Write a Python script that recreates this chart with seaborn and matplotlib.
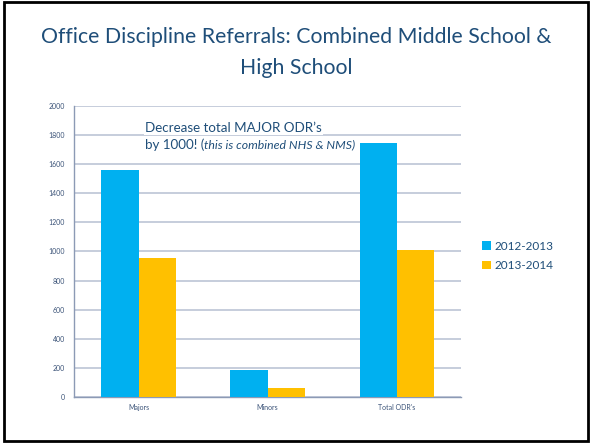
import pandas as pd
import matplotlib.pyplot as plt
import seaborn as sns
from matplotlib.patches import Rectangle
from matplotlib.ticker import FixedLocator

categories = ['Majors', 'Minors', "Total ODR's"]
years = ['2012-2013', '2013-2014']
vals_2012 = [1560, 185, 1745]
vals_2013 = [955, 63, 1010]

df = pd.DataFrame({
    'category': categories * 2,
    'year': [years[0]] * 3 + [years[1]] * 3,
    'value': vals_2012 + vals_2013,
})

sns.set_style('white')
plt.rcParams['font.family'] = ['Lato', 'DejaVu Sans']

navy = '#1F4E79'
axis_col = '#8C9AB5'

fig = plt.figure(figsize=(5.92, 4.45), dpi=100)
ax = fig.add_axes([0.125, 0.108, 0.654, 0.654])

sns.barplot(data=df, x='category', y='value', hue='year',
            palette=['#00B0F0', '#FFC000'], width=0.575, ax=ax,
            saturation=1, edgecolor='none', zorder=3)

ax.set_ylim(0, 2000)
ax.set_xlim(-0.5, 2.5)
ax.set_yticks(range(0, 2001, 200))
ax.yaxis.grid(True, color='#BCC5D6', lw=1.2, zorder=0)
ax.set_xlabel('')
ax.set_ylabel('')
ax.tick_params(axis='both', labelsize=5, colors='#3B5378', length=3, width=0.8)
ax.tick_params(axis='x', which='major', length=0, pad=5)
ax.xaxis.set_minor_locator(FixedLocator([-0.5, 0.5, 1.5, 2.5]))
ax.tick_params(axis='x', which='minor', length=3, width=0.8, colors=axis_col)
ax.tick_params(axis='y', colors=axis_col, labelcolor='#3B5378')
for s in ['top', 'right']:
    ax.spines[s].set_visible(False)
for s in ['left', 'bottom']:
    ax.spines[s].set_color(axis_col)
    ax.spines[s].set_linewidth(1.0)

# annotation: white backing under the bars, text on top
line1 = "Decrease total MAJOR ODR\u2019s"
line2a = "by 1000! ("
line2b = "this is combined NHS & NMS)"
for z, col, box in [(2, 'none', dict(facecolor='white', edgecolor='none', pad=1)),
                    (4, navy, None)]:
    ax.text(0.183, 0.924, line1, transform=ax.transAxes, fontsize=9.6, color=col,
            va='center', ha='left', zorder=z, bbox=box)
    t2 = ax.text(0.183, 0.866, line2a, transform=ax.transAxes, fontsize=9.6, color=col,
                 va='center', ha='left', zorder=z, bbox=box)
    ax.annotate(line2b, xy=(1, 0.5), xycoords=t2, fontsize=8.8, style='italic',
                color=col, va='center', ha='left', zorder=z, bbox=box,
                annotation_clip=False)

ax.legend(loc='center left', bbox_to_anchor=(0.797, 0.425), bbox_transform=fig.transFigure,
          frameon=False, fontsize=8.5, handlelength=0.7, handleheight=0.7,
          handletextpad=0.3, labelspacing=0.7, labelcolor=navy)

fig.text(0.5, 0.917, 'Office Discipline Referrals: Combined Middle School &',
         ha='center', va='center', fontsize=15.3, color=navy)
fig.text(0.5, 0.847, 'High School', ha='center', va='center', fontsize=15.3, color=navy)

fig.patches.append(Rectangle((0.006, 0.009), 0.988, 0.986, transform=fig.transFigure,
                             fill=False, edgecolor='black', lw=2))

fig.savefig('out.png', dpi=100)
